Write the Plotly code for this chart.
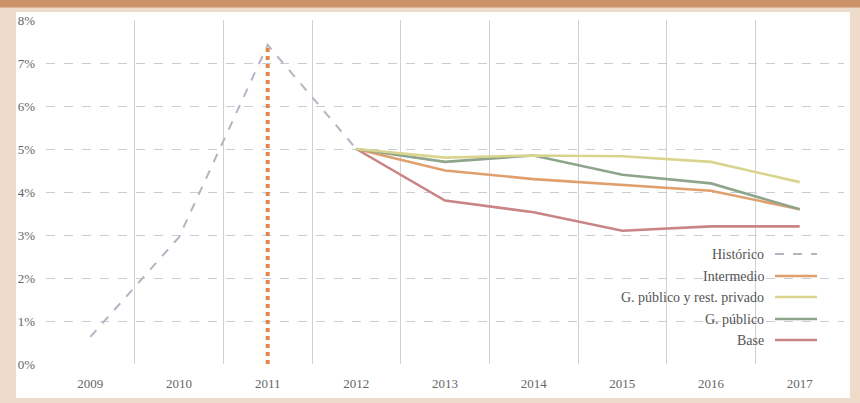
import plotly.graph_objects as go

years = [2009, 2010, 2011, 2012, 2013, 2014, 2015, 2016, 2017]
pct_ticks = [0, 1, 2, 3, 4, 5, 6, 7, 8]
pct_labels = ["0%", "1%", "2%", "3%", "4%", "5%", "6%", "7%", "8%"]
hist_years = [2009, 2010, 2011, 2012]
historico = [0.63, 2.95, 7.42, 5.0]
proj_years = [2012, 2013, 2014, 2015, 2016, 2017]
intermedio = [5.0, 4.5, 4.3, 4.17, 4.03, 3.6]
gpub_rest = [5.0, 4.8, 4.85, 4.83, 4.7, 4.23]
gpublico = [5.0, 4.7, 4.85, 4.4, 4.2, 3.6]
base = [5.0, 3.8, 3.53, 3.1, 3.2, 3.2]
marker_year = [2011, 2011]
marker_vals = [0.0, 7.42]

names = ["Histórico", "Intermedio", "G. público y rest. privado", "G. público", "Base"]
colors = ["#B9B2C2", "#E0A06E", "#D9D58E", "#8FA48C", "#C98585"]
dashes = ["dash", "solid", "solid", "solid", "solid"]
series = [(hist_years, historico), (proj_years, intermedio), (proj_years, gpub_rest),
          (proj_years, gpublico), (proj_years, base)]

FONT = "Liberation Serif, DejaVu Serif, Times New Roman, serif"

fig = go.Figure()

fig.add_trace(go.Scatter(x=marker_year, y=marker_vals, mode="lines",
                         line=dict(color="#E2874A", width=4, dash="dot"),
                         showlegend=False, hoverinfo="skip"))

order = [4, 1, 3, 2, 0]
for i in order:
    xs, ys = series[i]
    fig.add_trace(go.Scatter(x=xs, y=ys, mode="lines", name=names[i],
                             line=dict(color=colors[i], width=2 if i == 0 else 2.6, dash=dashes[i]),
                             showlegend=False))

W, H = 860, 403
ml, mr, mt, mb = 46, 16, 20, 39
pw, ph = W - ml - mr, H - mt - mb

def px(x):
    return (x - ml) / pw

def py(y):
    return (H - mb - y) / ph

shapes = [
    dict(type="rect", xref="paper", yref="paper", x0=px(-5), x1=px(W + 5), y0=py(H + 5), y1=py(-5),
         fillcolor="#EFDBCA", line=dict(width=0), layer="below"),
    dict(type="rect", xref="paper", yref="paper", x0=px(16), x1=px(850), y0=py(398), y1=py(12),
         fillcolor="white", line=dict(width=0), layer="below"),
    dict(type="rect", xref="paper", yref="paper", x0=px(-5), x1=px(W + 5), y0=py(7.5), y1=py(-5),
         fillcolor="#CE926A", line=dict(width=0), layer="below"),
]

annotations = []
legend_rows = [254, 276, 297, 319, 340]
for row, i in zip(legend_rows, range(5)):
    annotations.append(dict(xref="paper", yref="paper", x=px(766), y=py(row), text=names[i],
                            showarrow=False, xanchor="right", yanchor="middle",
                            font=dict(family=FONT, size=14, color="#555555")))
    shapes.append(dict(type="line", xref="paper", yref="paper", x0=px(775), x1=px(817),
                       y0=py(row), y1=py(row),
                       line=dict(color=colors[i], width=2 if i == 0 else 2.6, dash=dashes[i])))

fig.update_layout(
    width=W, height=H,
    margin=dict(l=ml, r=mr, t=mt, b=mb, autoexpand=False),
    paper_bgcolor="#EFDBCA",
    plot_bgcolor="rgba(0,0,0,0)",
    font=dict(family=FONT, color="#666666"),
    shapes=shapes,
    annotations=annotations,
    showlegend=False,
    xaxis=dict(range=[2008.5, 2017.5], tickmode="array", tickvals=years,
               ticktext=[str(y) for y in years], automargin=False, ticklabelstandoff=10,
               showgrid=False, zeroline=False, showline=False, ticks="",
               tickfont=dict(family=FONT, size=13, color="#666666"),
               minor=dict(tickvals=[y + 0.5 for y in years[:-1]], showgrid=True,
                          gridcolor="#D5CFD1", gridwidth=1, griddash="solid", ticks="")),
    yaxis=dict(range=[0, 8], tickmode="array", tickvals=pct_ticks, ticktext=pct_labels,
               automargin=False, ticklabelstandoff=10,
               showgrid=False, zeroline=False, showline=False, ticks="",
               tickfont=dict(family=FONT, size=13, color="#666666"),
               minor=dict(tickvals=list(range(1, 8)), showgrid=True,
                          gridcolor="#C8CCD6", gridwidth=1, griddash="dash", ticks="")),
)

fig.write_html("out.html", config={"displayModeBar": False},
               post_script="document.body.style.margin='0';document.body.style.overflow='hidden';")
